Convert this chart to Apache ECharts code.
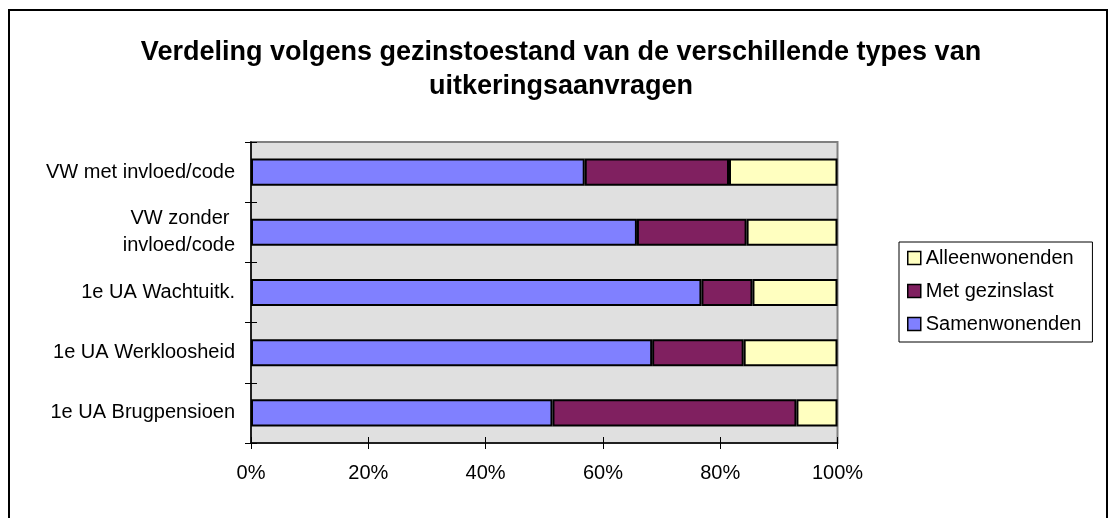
<!DOCTYPE html>
<html>
<head>
<meta charset="utf-8">
<script src="https://cdn.jsdelivr.net/npm/echarts@6/dist/echarts.min.js"></script>
<style>
  html, body { margin: 0; padding: 0; background: #fff; }
  #chart { width: 1112px; height: 518px; }
</style>
</head>
<body>
<div id="chart"></div>
<script>
const categories = [
  'VW met invloed/code',
  'VW zonder \ninvloed/code',
  '1e UA Wachtuitk.',
  '1e UA Werkloosheid',
  '1e UA Brugpensioen'
];
const samenwonenden = [56.9, 65.8, 76.8, 68.4, 51.4];
const metGezinslast = [24.6, 18.7, 8.7, 15.6, 41.6];
const alleenwonenden = [18.5, 15.5, 14.5, 16.0, 7.0];
const legendOrder = ['Alleenwonenden', 'Met gezinslast', 'Samenwonenden'];
const xTicks = { min: 0, max: 100, interval: 20 };

const FONT = '"Liberation Sans", Arial, sans-serif';
const chart = echarts.init(document.getElementById('chart'), null, { renderer: 'canvas' });

const barBorder = { borderColor: '#000', borderWidth: 2 };

chart.setOption({
  backgroundColor: '#fff',
  animation: false,
  title: {
    text: 'Verdeling volgens gezinstoestand van de verschillende types van\nuitkeringsaanvragen',
    left: 556,
    top: 31,
    textAlign: 'center',
    textStyle: { fontFamily: FONT, fontSize: 27, fontWeight: 'bold', color: '#000', lineHeight: 34 }
  },
  graphic: [{
    type: 'rect',
    shape: { x: 9, y: 10, width: 1098, height: 600 },
    style: { fill: 'none', stroke: '#000', lineWidth: 2 },
    silent: true
  }],
  legend: {
    data: legendOrder,
    orient: 'vertical',
    left: 899,
    top: 242,
    padding: [6, 11, 8, 8],
    itemWidth: 13,
    itemHeight: 13,
    itemGap: 13,
    icon: 'rect',
    borderColor: '#000',
    borderWidth: 1,
    backgroundColor: '#fff',
    itemStyle: { borderColor: '#000', borderWidth: 1.5 },
    textStyle: { fontFamily: FONT, fontSize: 20, color: '#000' }
  },
  grid: {
    left: 251, right: 274.5, top: 142, bottom: 75,
    show: true,
    backgroundColor: '#E0E0E0',
    borderColor: '#808080',
    borderWidth: 2
  },
  xAxis: [{
    type: 'value',
    min: xTicks.min, max: xTicks.max, interval: xTicks.interval,
    position: 'bottom',
    splitLine: { show: false },
    axisLine: { show: true, lineStyle: { color: '#000', width: 1.5 } },
    axisTick: { show: true, length: 6, lineStyle: { color: '#000', width: 1 } },
    axisLabel: { formatter: '{value}%', fontFamily: FONT, fontSize: 20, color: '#000', margin: 20 }
  }, {
    type: 'value',
    min: xTicks.min, max: xTicks.max, interval: xTicks.interval,
    position: 'bottom',
    splitLine: { show: false },
    axisLine: { show: false },
    axisTick: { show: true, inside: true, length: 6, lineStyle: { color: '#000', width: 1 } },
    axisLabel: { show: false }
  }],
  yAxis: [{
    type: 'category',
    data: categories,
    inverse: true,
    axisLine: { show: true, lineStyle: { color: '#000', width: 1.5 } },
    axisTick: { show: true, length: 6, lineStyle: { color: '#000', width: 1 } },
    splitLine: { show: false },
    axisLabel: { fontFamily: FONT, fontSize: 20, color: '#000', margin: 16, lineHeight: 27, align: 'right' }
  }, {
    type: 'category',
    data: categories,
    inverse: true,
    position: 'left',
    axisLine: { show: false },
    axisTick: { show: true, inside: true, length: 6, lineStyle: { color: '#000', width: 1 } },
    splitLine: { show: false },
    axisLabel: { show: false }
  }],
  series: [{
    name: 'Samenwonenden',
    type: 'bar', stack: 'total', barCategoryGap: '55%',
    xAxisIndex: 0, yAxisIndex: 0,
    itemStyle: Object.assign({ color: '#8080FF' }, barBorder),
    data: samenwonenden
  }, {
    name: 'Met gezinslast',
    type: 'bar', stack: 'total', barCategoryGap: '55%',
    xAxisIndex: 0, yAxisIndex: 0,
    itemStyle: Object.assign({ color: '#802060' }, barBorder),
    data: metGezinslast
  }, {
    name: 'Alleenwonenden',
    type: 'bar', stack: 'total', barCategoryGap: '55%',
    xAxisIndex: 0, yAxisIndex: 0,
    itemStyle: Object.assign({ color: '#FFFFC0' }, barBorder),
    data: alleenwonenden
  }]
});
</script>
</body>
</html>
